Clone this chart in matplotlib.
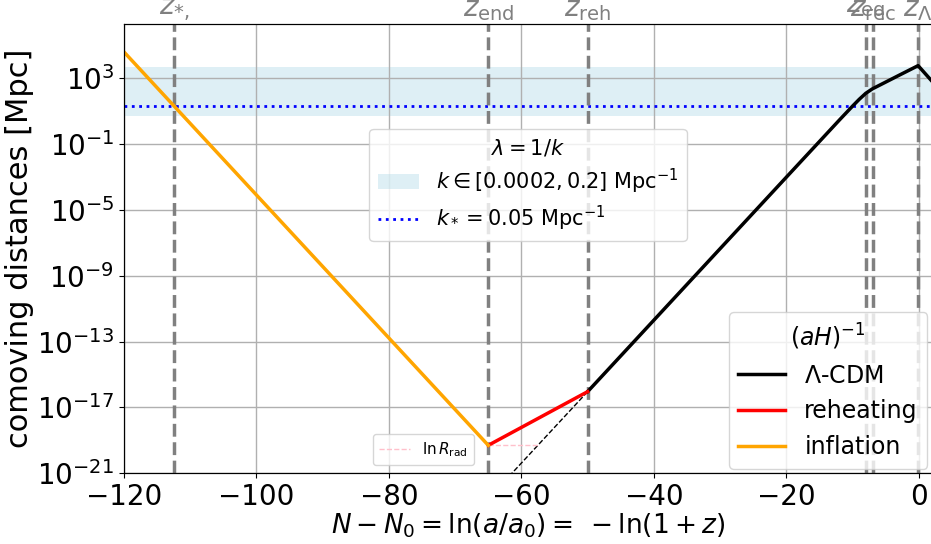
import numpy as np
import matplotlib.pyplot as plt
from matplotlib.patches import Patch
from matplotlib.lines import Line2D

# comoving Hubble radius (aH)^-1, log10 of Mpc
infl_N = [-120, -65]
infl_log = [4.6, -19.3]
reh_N = [-65, -50]
reh_log = [-19.3, -16.04]
lcdm_N = [-50, -20, -12, -10, -9, -8, -7, -5, -3, -0.1, 2]
lcdm_log = [-16.04, -3.01, 0.46, 1.31, 1.72, 2.09, 2.36, 2.77, 3.18, 3.77, 2.82]

# radiation extrapolation and ln R_rad
rad_ext_N = [-50, -63]
rad_ext_log = [-16.04, -21.68]
lnR_N = [-65, -57.4]
lnR_log = [-19.3, -19.3]

# scales of interest
k_min, k_max = 0.0002, 0.2
k_star = 0.05

# special moments
z_pos = [-112.4, -65, -50, -8.0, -6.9, -0.1]
z_labels = [r'$z_{*,}$', r'$z_{\rm end}$', r'$z_{\rm reh}$',
            r'$z_{\rm eq}$', r'$z_{\rm rec}$', r'$z_{\Lambda}$']

yticks = [1e-21, 1e-17, 1e-13, 1e-9, 1e-5, 1e-1, 1e3]

fig = plt.figure(figsize=(9.31, 5.44), dpi=100)
ax = fig.add_axes([0.1332, 0.13, 0.8679, 0.8259])

ax.axhspan(1 / k_max, 1 / k_min, color='lightblue', alpha=0.4, lw=0)
ax.axhline(1 / k_star, color='blue', ls=':', lw=2)

for z in z_pos:
    ax.axvline(z, color='gray', ls='--', lw=2.5)

ax.plot(rad_ext_N, 10**np.array(rad_ext_log), 'k--', lw=1)
ax.plot(lnR_N, 10**np.array(lnR_log), color='pink', ls='--', lw=1)
ax.plot(lcdm_N, 10**np.array(lcdm_log), color='black', lw=2.5)
ax.plot(reh_N, 10**np.array(reh_log), color='red', lw=2.5)
ax.plot(infl_N, 10**np.array(infl_log), color='orange', lw=2.5)

ax.set_yscale('log')
ax.set_xlim(-120, 2)
ax.set_ylim(1e-21, 2e6)
ax.set_yticks(yticks)
ax.yaxis.set_minor_locator(plt.NullLocator())
ax.grid(True, color='#b0b0b0', lw=1)
ax.tick_params(labelsize=20)
ax.set_xlabel(r'$N - N_0 = \ln(a/a_0) =\;-\ln(1+z)$', fontsize=19, labelpad=0)
ax.set_ylabel('comoving distances [Mpc]', fontsize=22, labelpad=2)

top = ax.twiny()
top.set_xlim(ax.get_xlim())
top.set_xticks(z_pos)
top.set_xticklabels(z_labels)
top.tick_params(length=0, labelsize=20, labelcolor='gray', pad=1)

# legends
h1 = [Patch(color='lightblue', alpha=0.4, lw=0),
      Line2D([], [], color='blue', ls=':', lw=2)]
leg1 = ax.legend(h1, [r'$k \in [0.0002, 0.2]$ Mpc$^{-1}$', r'$k_* = 0.05$ Mpc$^{-1}$'],
                 title=r'$\lambda = 1/k$', loc='upper center',
                 bbox_to_anchor=(0.5, 0.79), fontsize=15, title_fontsize=15,
                 labelspacing=0.4)
ax.add_artist(leg1)

h3 = [Line2D([], [], color='pink', ls='--', lw=1)]
leg3 = ax.legend(h3, [r'$\ln R_{\rm rad}$'], loc='lower left',
                 bbox_to_anchor=(0.308, 0.018), borderaxespad=0, fontsize=11)
ax.add_artist(leg3)

h2 = [Line2D([], [], color='black', lw=2.5),
      Line2D([], [], color='red', lw=2.5),
      Line2D([], [], color='orange', lw=2.5)]
ax.legend(h2, [r'$\Lambda$-CDM', 'reheating', 'inflation'],
          title=r'$(aH)^{-1}$', loc='lower right', fontsize=17, title_fontsize=17,
          borderaxespad=0.2)

fig.savefig('out.png', dpi=100)
